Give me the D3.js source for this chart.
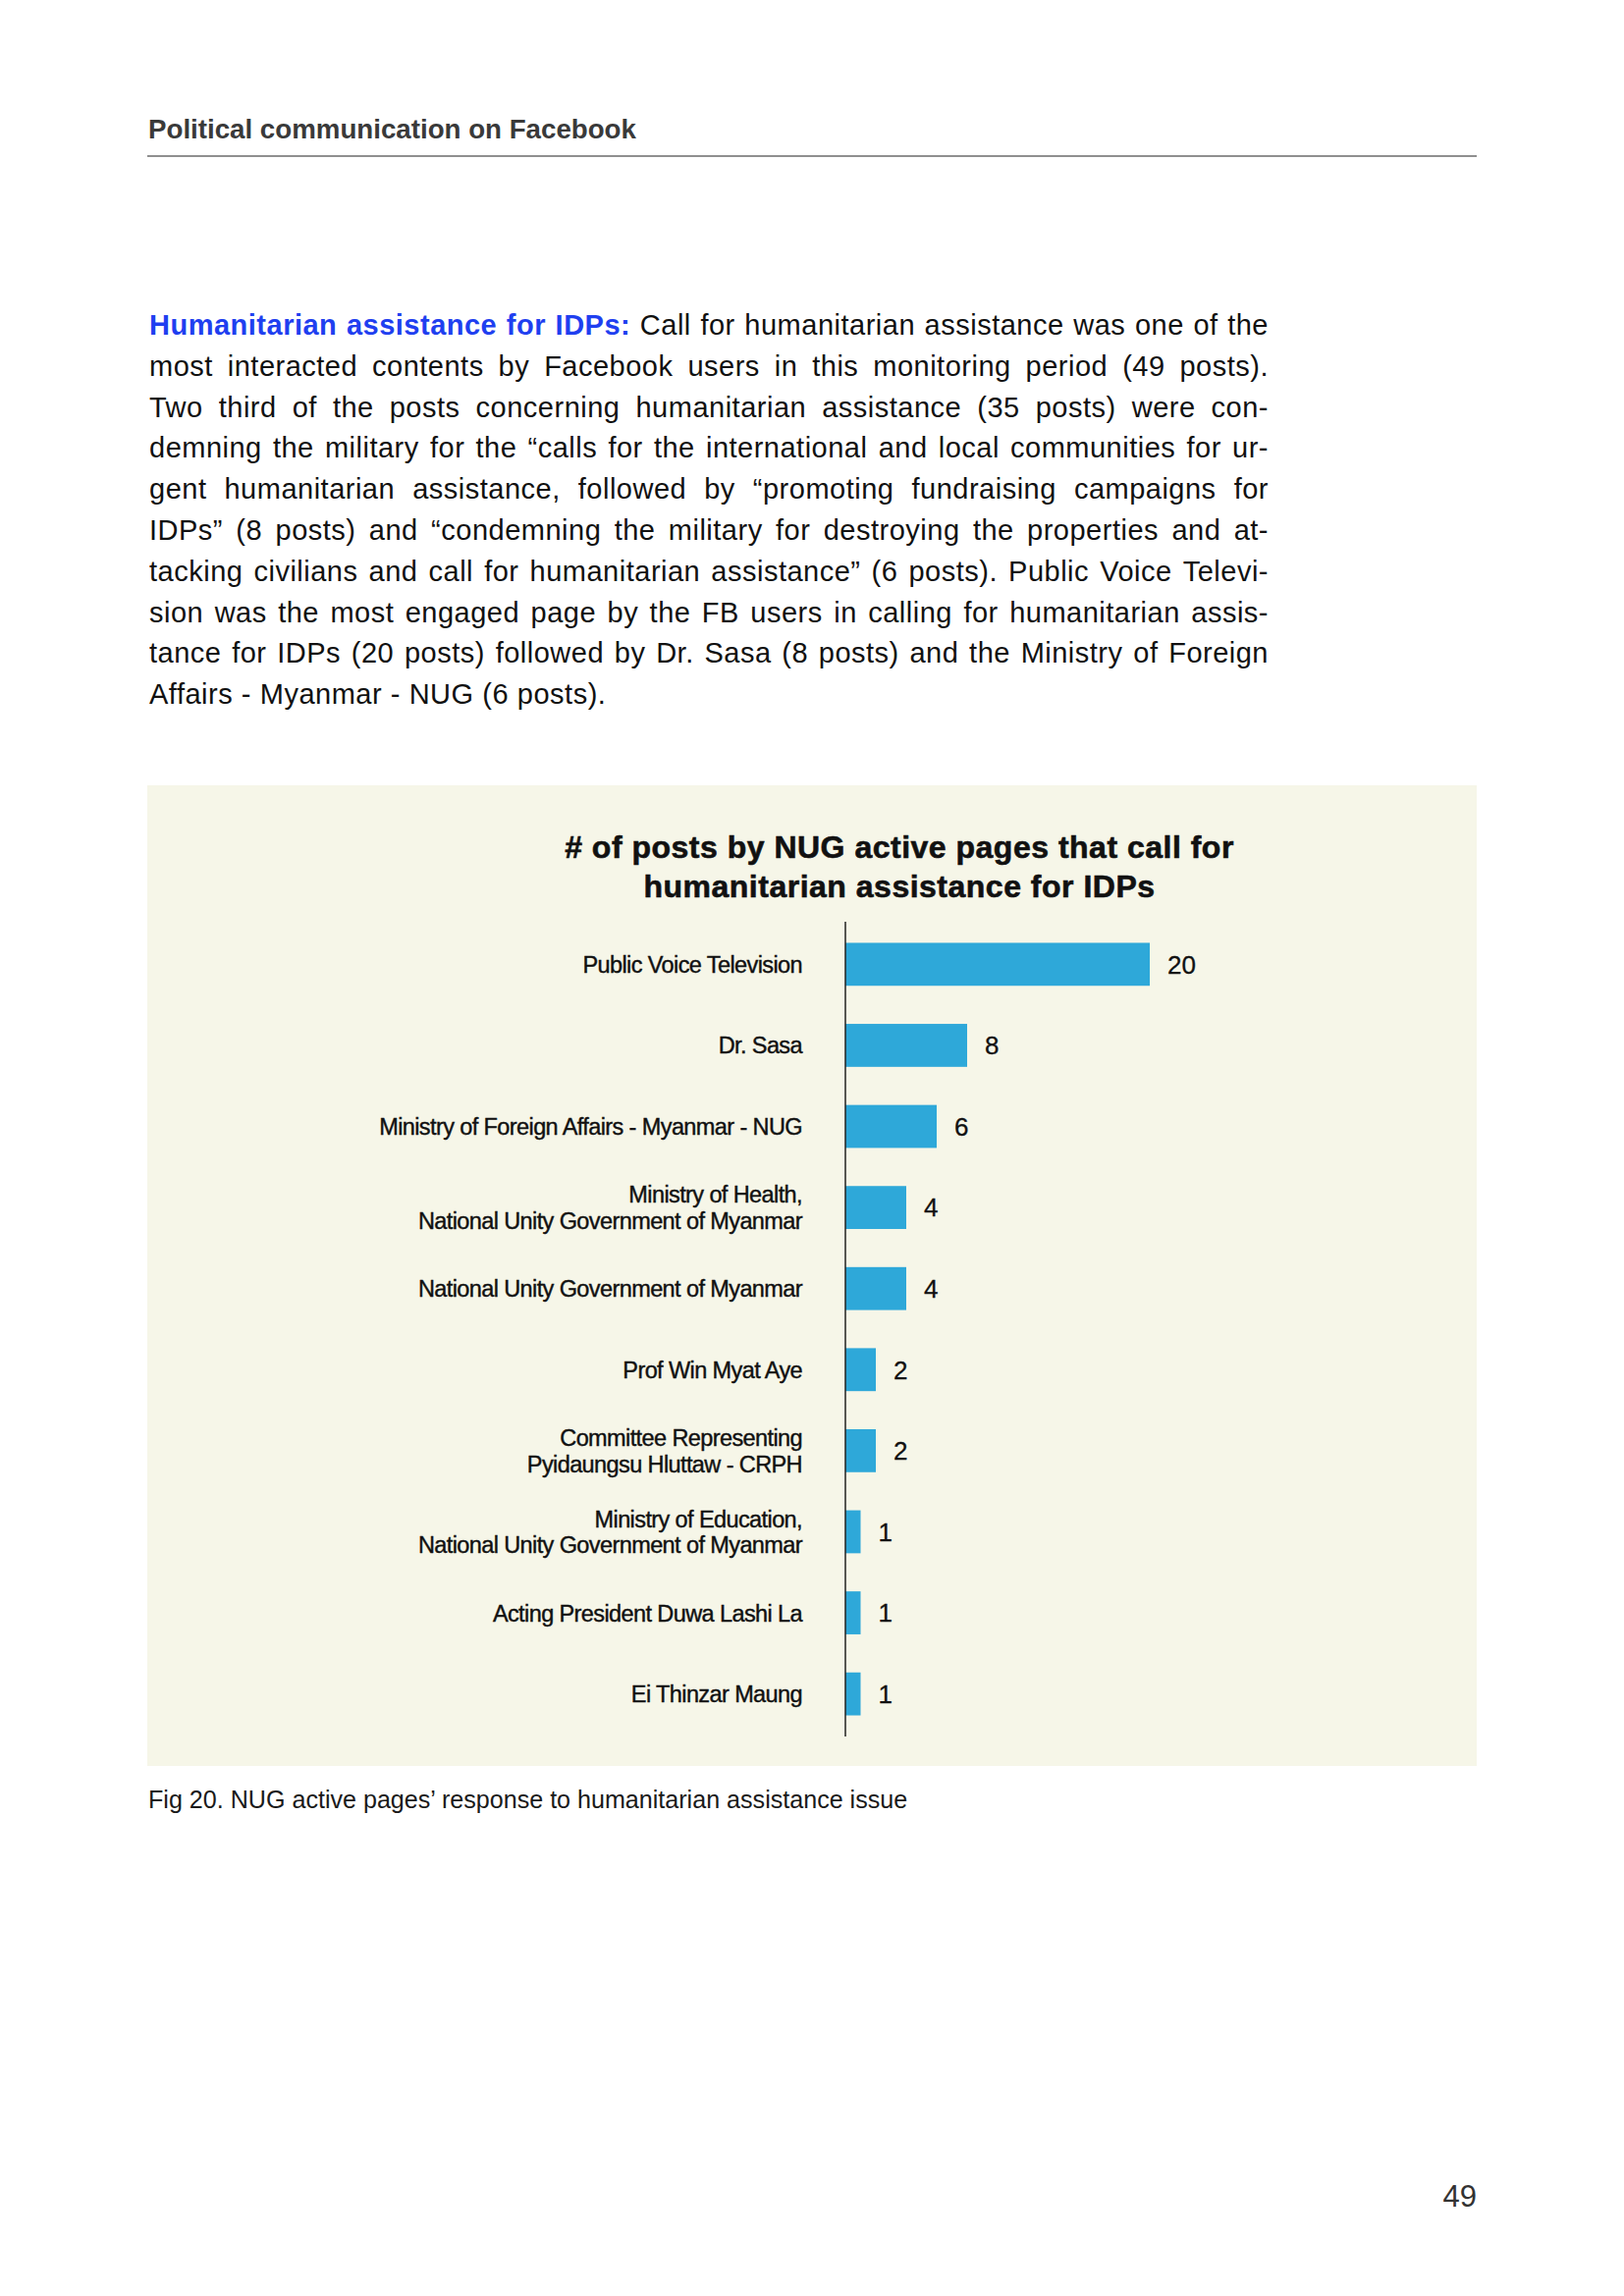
<!DOCTYPE html>
<html>
<head>
<meta charset="utf-8">
<script src="https://cdn.jsdelivr.net/npm/d3@7"></script>
<style>
  body { margin: 0; background: #fff; }
  svg { display: block; }
</style>
</head>
<body>
<div id="root"></div>
<script>
// datos del grafico
const pages = [
  "Public Voice Television",
  "Dr. Sasa",
  "Ministry of Foreign Affairs - Myanmar - NUG",
  "Ministry of Health,\nNational Unity Government of Myanmar",
  "National Unity Government of Myanmar",
  "Prof Win Myat Aye",
  "Committee Representing\nPyidaungsu Hluttaw - CRPH",
  "Ministry of Education,\nNational Unity Government of Myanmar",
  "Acting President Duwa Lashi La",
  "Ei Thinzar Maung"
]
const posts = [20, 8, 6, 4, 4, 2, 2, 1, 1, 1]
const xTicks = [0, 20]

const chartTitle = [
  "# of posts by NUG active pages that call for",
  "humanitarian assistance for IDPs"
]
const headerText = "Political communication on Facebook"
const leadText = "Humanitarian assistance for IDPs:"
const bodyLines = [
  "Call for humanitarian assistance was one of the",
  "most interacted contents by Facebook users in this monitoring period (49 posts).",
  "Two third of the posts concerning humanitarian assistance (35 posts) were con-",
  "demning the military for the \u201ccalls for the international and local communities for ur-",
  "gent humanitarian assistance, followed by \u201cpromoting fundraising campaigns for",
  "IDPs\u201d (8 posts) and \u201ccondemning the military for destroying the properties and at-",
  "tacking civilians and call for humanitarian assistance\u201d (6 posts). Public Voice Televi-",
  "sion was the most engaged page by the FB users in calling for humanitarian assis-",
  "tance for IDPs (20 posts) followed by Dr. Sasa (8 posts) and the Ministry of Foreign",
  "Affairs - Myanmar - NUG (6 posts)."
]
const captionText = "Fig 20. NUG active pages\u2019 response to humanitarian assistance issue"
const pageNumber = "49"

const W = 1654, H = 2339
const font = "'Liberation Sans', Arial, Helvetica, sans-serif"

const svg = d3.select("#root").append("svg")
  .attr("width", W)
  .attr("height", H)
  .attr("viewBox", `0 0 ${W} ${H}`)
  .style("font-family", font)

svg.append("rect").attr("width", W).attr("height", H).attr("fill", "#fff")

// cabecera
svg.append("text")
  .attr("x", 151)
  .attr("y", 141)
  .attr("font-size", 27.7)
  .attr("font-weight", 700)
  .attr("fill", "#3a3a3a")
  .text(headerText)

svg.append("line")
  .attr("x1", 150).attr("x2", 1504)
  .attr("y1", 159).attr("y2", 159)
  .attr("stroke", "#6a6a6a")
  .attr("stroke-width", 1.5)

// parrafo justificado
const textLeft = 152, textRight = 1292
const lineStart = 341, lineGap = 41.8
const bodySize = 29
const body = svg.append("g")
  .attr("font-size", bodySize)
  .attr("fill", "#111")
  .style("letter-spacing", "0.5px")

bodyLines.forEach((line, i) => {
  let words = line.split(" ").map(w => ({ w, lead: false }))
  if (i === 0) words = leadText.split(" ").map(w => ({ w, lead: true })).concat(words)
  const y = lineStart + i * lineGap
  const g = body.append("g")
  const texts = g.selectAll("text")
    .data(words)
    .enter()
    .append("text")
    .attr("y", y)
    .attr("font-weight", d => d.lead ? 700 : 400)
    .attr("fill", d => d.lead ? "#1f3ff0" : "#111")
    .text(d => d.w)
  const widths = texts.nodes().map(n => n.getComputedTextLength())
  const total = d3.sum(widths)
  const last = i === bodyLines.length - 1
  const gap = last ? bodySize * 0.3 : (textRight - textLeft - total) / (words.length - 1)
  let x = textLeft
  texts.attr("x", (d, k) => {
    const pos = x
    x += widths[k] + gap
    return pos
  })
})

// panel del grafico
const panel = { x: 150, y: 800, w: 1354, h: 999 }
svg.append("rect")
  .attr("x", panel.x).attr("y", panel.y)
  .attr("width", panel.w).attr("height", panel.h)
  .attr("fill", "#f6f6e8")

svg.append("g")
  .attr("font-size", 32)
  .attr("font-weight", 700)
  .attr("fill", "#111")
  .attr("stroke", "#111")
  .attr("stroke-width", 0.6)
  .attr("text-anchor", "middle")
  .style("letter-spacing", "0.5px")
  .selectAll("text")
  .data(chartTitle)
  .enter()
  .append("text")
  .attr("x", 916)
  .attr("y", (d, i) => 873.5 + i * 40.2)
  .text(d => d)

const x = d3.scaleLinear()
  .domain(d3.extent(xTicks))
  .range([861, 1171])

const y = d3.scaleBand()
  .domain(pages)
  .range([939, 1769])
  .paddingInner(0.47)
  .paddingOuter(0.26)

const chart = svg.append("g")

chart.selectAll("rect.bar")
  .data(pages)
  .enter()
  .append("rect")
  .attr("class", "bar")
  .attr("x", x(0))
  .attr("y", d => y(d))
  .attr("width", (d, i) => x(posts[i]) - x(0))
  .attr("height", y.bandwidth())
  .attr("fill", "#2ea8d9")

chart.append("line")
  .attr("x1", x(0)).attr("x2", x(0))
  .attr("y1", y.range()[0]).attr("y2", y.range()[1])
  .attr("stroke", "#222")
  .attr("stroke-width", 1.5)

// valores
chart.append("g")
  .attr("font-size", 26)
  .attr("fill", "#111")
  .attr("stroke", "#111")
  .attr("stroke-width", 0.3)
  .selectAll("text")
  .data(pages)
  .enter()
  .append("text")
  .attr("x", (d, i) => x(posts[i]) + 18)
  .attr("y", d => y(d) + y.bandwidth() / 2)
  .attr("dy", "0.36em")
  .text((d, i) => posts[i])

// etiquetas de categoria
const labels = chart.append("g")
  .attr("font-size", 23.5)
  .attr("fill", "#111")
  .attr("stroke", "#111")
  .attr("stroke-width", 0.4)
  .attr("text-anchor", "end")
  .style("letter-spacing", "-0.6px")
  .selectAll("text")
  .data(pages)
  .enter()
  .append("text")
  .attr("transform", d => `translate(817 ${y(d) + y.bandwidth() / 2})`)

labels.selectAll("tspan")
  .data(d => {
    const parts = d.split("\n")
    return parts.map((p, k) => ({ p, k, n: parts.length }))
  })
  .enter()
  .append("tspan")
  .attr("x", 0)
  .attr("y", d => (d.k - (d.n - 1) / 2) * 26.8)
  .attr("dy", "0.36em")
  .text(d => d.p)

// pie de figura
svg.append("text")
  .attr("x", 151)
  .attr("y", 1842)
  .attr("font-size", 25.1)
  .attr("fill", "#1a1a1a")
  .text(captionText)

svg.append("text")
  .attr("x", 1504)
  .attr("y", 2248)
  .attr("text-anchor", "end")
  .attr("font-size", 31)
  .attr("fill", "#333")
  .text(pageNumber)
</script>
</body>
</html>
